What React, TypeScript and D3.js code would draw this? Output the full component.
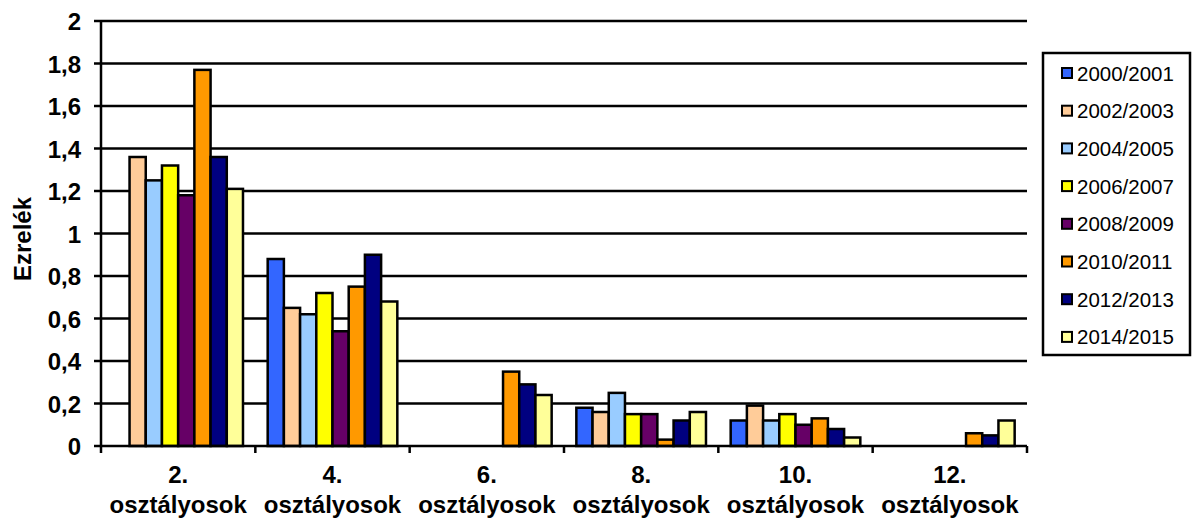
import * as d3 from 'd3';

const categories = ['2.', '4.', '6.', '8.', '10.', '12.'];
const seriesNames = ['2000/2001', '2002/2003', '2004/2005', '2006/2007', '2008/2009', '2010/2011', '2012/2013', '2014/2015'];
const seriesColors = ['#3366FF', '#FFCC99', '#99CCFF', '#FFFF00', '#660066', '#FF9900', '#000080', '#FFFF99'];

// values per series, one per category (null = no bar)
const s2000 = [null, 0.88, null, 0.18, 0.12, null];
const s2002 = [1.36, 0.65, null, 0.16, 0.19, null];
const s2004 = [1.25, 0.62, null, 0.25, 0.12, null];
const s2006 = [1.32, 0.72, null, 0.15, 0.15, null];
const s2008 = [1.18, 0.54, null, 0.15, 0.10, null];
const s2010 = [1.77, 0.75, 0.35, 0.03, 0.13, 0.06];
const s2012 = [1.36, 0.90, 0.29, 0.12, 0.08, 0.05];
const s2014 = [1.21, 0.68, 0.24, 0.16, 0.04, 0.12];
const seriesValues = [s2000, s2002, s2004, s2006, s2008, s2010, s2012, s2014];

const yTicks = [0, 0.2, 0.4, 0.6, 0.8, 1, 1.2, 1.4, 1.6, 1.8, 2];

const FONT = 'Liberation Sans, Arial, sans-serif';
const bold = { fontFamily: FONT, fontWeight: 700 };

export default function App() {
  const left = 101, right = 1027, top = 21, bottom = 446;

  const x0 = d3.scaleBand<string>().domain(categories).range([left, right]).padding(0);
  const bw = x0.bandwidth();
  const x1 = d3.scaleBand<string>().domain(seriesNames).range([bw * 0.08, bw * 0.92]).padding(0);
  const y = d3.scaleLinear().domain([0, 2]).range([bottom, top]);
  const fmt = (v: number) => String(+v.toFixed(1)).replace('.', ',');

  const boundaries = d3.range(categories.length + 1).map(i => left + i * bw);

  return (
    <svg width={1192} height={520} style={{ position: 'absolute', left: 0, top: 0, background: '#fff' }}>
      {/* gridlines */}
      {yTicks.filter(t => t > 0).map(t => (
        <line key={'g' + t} x1={left} x2={right} y1={y(t)} y2={y(t)} stroke="#000" strokeWidth={2.5} />
      ))}

      {/* bars */}
      {categories.map((c, ci) => (
        <g key={c} transform={`translate(${x0(c)},0)`}>
          {seriesNames.map((s, si) => {
            const v = seriesValues[si][ci];
            if (v == null) return null;
            return (
              <rect key={s} x={x1(s)} y={y(v)} width={x1.bandwidth()} height={y(0) - y(v)}
                fill={seriesColors[si]} stroke="#000" strokeWidth={2.5} />
            );
          })}
        </g>
      ))}

      {/* axes */}
      <line x1={left} x2={left} y1={top} y2={bottom} stroke="#000" strokeWidth={2.5} />
      <line x1={left} x2={right} y1={bottom} y2={bottom} stroke="#000" strokeWidth={2.5} />
      {yTicks.map(t => (
        <g key={'y' + t}>
          <line x1={left - 7} x2={left} y1={y(t)} y2={y(t)} stroke="#000" strokeWidth={2.5} />
          <text x={81} y={y(t) + 9} textAnchor="end"
            style={{ ...bold, fontSize: '24px' }}>{fmt(t)}</text>
        </g>
      ))}
      {boundaries.map((b, i) => (
        <line key={'b' + i} x1={b} x2={b} y1={bottom} y2={bottom + 7} stroke="#000" strokeWidth={2.5} />
      ))}
      {categories.map(c => {
        const cx = (x0(c) ?? 0) + bw / 2;
        return (
          <g key={'l' + c}>
            <text x={cx} y={483} textAnchor="middle"
              style={{ ...bold, fontSize: '24px' }}>{c}</text>
            <text x={cx} y={513} textAnchor="middle"
              style={{ ...bold, fontSize: '24px' }}>osztályosok</text>
          </g>
        );
      })}

      <text transform="translate(31,239) rotate(-90)" textAnchor="middle"
        style={{ ...bold, fontSize: '24px' }}>Ezrelék</text>

      {/* legend */}
      <rect x={1043} y={53} width={147} height={302} fill="#fff" stroke="#000" strokeWidth={2.5} />
      {seriesNames.map((s, i) => {
        const cy = 73 + i * 37.7;
        return (
          <g key={'lg' + s}>
            <rect x={1062} y={cy - 5} width={10} height={10} fill={seriesColors[i]} stroke="#000" strokeWidth={2} />
            <text x={1077} y={cy + 7.5} style={{ fontFamily: FONT, fontSize: '20.5px' }}>{s}</text>
          </g>
        );
      })}
    </svg>
  );
}
